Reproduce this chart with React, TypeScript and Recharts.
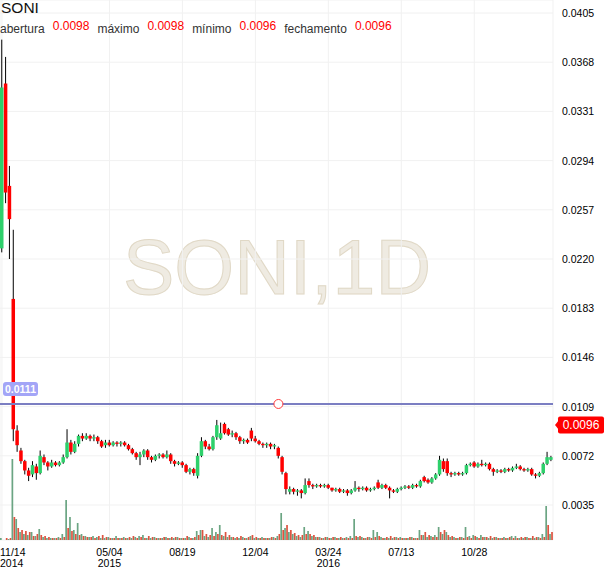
import React from 'react';
import { ComposedChart, Bar, XAxis, YAxis, CartesianGrid, ReferenceLine, ReferenceDot } from 'recharts';

const FONT = "'Liberation Sans', Arial, sans-serif";

const SYMBOL = 'SONI';
const WATERMARK = 'SONI,1D';
const LEGEND = [
  ['abertura', '0.0098'],
  ['máximo', '0.0098'],
  ['mínimo', '0.0096'],
  ['fechamento', '0.0096'],
];
const LAST_PRICE = 0.0096;
const HLINE_PRICE = 0.0111;
const HLINE_ANCHOR = 72;

// one entry per 4 trading days, starting 11/14/2014
const OPEN = [
  0.0228, 0.0352, 0.0275, 0.019, 0.0091, 0.0076, 0.0068, 0.0061, 0.0058, 0.0064,
  0.0059, 0.0071, 0.0067, 0.0064, 0.0067, 0.0065, 0.0067, 0.0071, 0.0082, 0.0075,
  0.0081, 0.0087, 0.0085, 0.0087, 0.0085, 0.0086, 0.0083, 0.008, 0.0082, 0.008,
  0.0082, 0.0081, 0.0082, 0.008, 0.0077, 0.0074, 0.0071, 0.0073, 0.0076, 0.0071,
  0.0069, 0.0072, 0.0073, 0.0071, 0.0073, 0.0068, 0.0066, 0.0067, 0.0065, 0.006,
  0.0062, 0.0057, 0.0072, 0.0083, 0.0079, 0.0077, 0.0086, 0.0085, 0.0096, 0.0092,
  0.0088, 0.0089, 0.0086, 0.0083, 0.0084, 0.0091, 0.0085, 0.0083, 0.0081, 0.008,
  0.0081, 0.0079, 0.0078, 0.0071, 0.0059, 0.0045, 0.0047, 0.0045, 0.0046, 0.0044,
  0.0053, 0.005, 0.0049, 0.005, 0.0049, 0.005, 0.0048, 0.0046, 0.0047, 0.0045,
  0.0046, 0.0044, 0.0046, 0.0048, 0.0047, 0.0048, 0.0046, 0.0047, 0.0052, 0.0048,
  0.005, 0.0048, 0.0046, 0.0045, 0.0047, 0.0048, 0.0049, 0.0048, 0.005, 0.0049,
  0.0056, 0.0054, 0.0052, 0.0055, 0.0058, 0.0068, 0.0068, 0.0059, 0.0058, 0.0059,
  0.0058, 0.0059, 0.0065, 0.0067, 0.0064, 0.0066, 0.0065, 0.0066, 0.0062, 0.006,
  0.0061, 0.006, 0.0062, 0.0061, 0.0063, 0.0064, 0.0062, 0.0061, 0.0062, 0.0058,
  0.0057, 0.0059, 0.0066, 0.0069,
];
const HIGH = [
  0.0385, 0.0372, 0.029, 0.0242, 0.0095, 0.0078, 0.0069, 0.0063, 0.0068, 0.0066,
  0.0076, 0.0073, 0.0068, 0.0069, 0.0068, 0.0068, 0.0073, 0.0092, 0.0084, 0.0083,
  0.0088, 0.0089, 0.0089, 0.0088, 0.0088, 0.0087, 0.0084, 0.0084, 0.0084, 0.0083,
  0.0083, 0.0083, 0.0083, 0.0081, 0.0078, 0.0075, 0.0075, 0.0077, 0.0077, 0.0072,
  0.0073, 0.0074, 0.0074, 0.0076, 0.0074, 0.0069, 0.0068, 0.0068, 0.0066, 0.0063,
  0.0063, 0.0074, 0.0086, 0.0084, 0.0081, 0.0087, 0.0099, 0.0097, 0.0097, 0.0093,
  0.0091, 0.009, 0.0087, 0.0085, 0.0085, 0.0093, 0.0087, 0.0084, 0.0082, 0.0082,
  0.0082, 0.0081, 0.0079, 0.0072, 0.006, 0.0049, 0.0048, 0.0047, 0.0047, 0.0055,
  0.0055, 0.0051, 0.0051, 0.0051, 0.0051, 0.0051, 0.0048, 0.0048, 0.0048, 0.0047,
  0.0047, 0.0047, 0.0053, 0.0049, 0.0049, 0.0049, 0.0048, 0.0049, 0.0054, 0.0051,
  0.0051, 0.0049, 0.0047, 0.0048, 0.0049, 0.005, 0.005, 0.0051, 0.0051, 0.0054,
  0.0057, 0.0055, 0.0056, 0.0059, 0.0072, 0.007, 0.007, 0.006, 0.006, 0.006,
  0.006, 0.0066, 0.0067, 0.0068, 0.0067, 0.0069, 0.0067, 0.0067, 0.0063, 0.0062,
  0.0062, 0.0063, 0.0063, 0.0064, 0.0066, 0.0065, 0.0063, 0.0063, 0.0063, 0.0059,
  0.006, 0.0067, 0.0075, 0.0072,
];
const LOW = [
  0.0225, 0.0262, 0.022, 0.0083, 0.0075, 0.0066, 0.0058, 0.0053, 0.0056, 0.0054,
  0.0058, 0.0065, 0.0061, 0.0063, 0.0064, 0.0064, 0.0066, 0.007, 0.0073, 0.0074,
  0.0079, 0.0083, 0.0084, 0.0083, 0.0083, 0.0081, 0.0078, 0.0078, 0.0079, 0.0079,
  0.0079, 0.0079, 0.0079, 0.0076, 0.0073, 0.0069, 0.0065, 0.0071, 0.0069, 0.0067,
  0.0068, 0.007, 0.007, 0.007, 0.0066, 0.0064, 0.0065, 0.0063, 0.0059, 0.0058,
  0.0057, 0.0055, 0.0071, 0.0077, 0.0076, 0.0076, 0.0084, 0.0084, 0.0088, 0.0087,
  0.0086, 0.0084, 0.0081, 0.0081, 0.0081, 0.0083, 0.0082, 0.008, 0.0078, 0.0078,
  0.0077, 0.0077, 0.007, 0.0058, 0.0043, 0.0043, 0.0043, 0.0042, 0.004, 0.0043,
  0.0048, 0.0047, 0.0048, 0.0048, 0.0048, 0.0047, 0.0045, 0.0045, 0.0044, 0.0044,
  0.0042, 0.0043, 0.0045, 0.0045, 0.0046, 0.0045, 0.0045, 0.0046, 0.0047, 0.0047,
  0.0047, 0.004, 0.0044, 0.0044, 0.0046, 0.0047, 0.0047, 0.0047, 0.0048, 0.0048,
  0.0052, 0.0051, 0.0051, 0.0054, 0.0057, 0.006, 0.0057, 0.0056, 0.0057, 0.0057,
  0.0057, 0.0058, 0.0064, 0.0063, 0.0063, 0.0064, 0.0064, 0.0061, 0.0057, 0.0059,
  0.0059, 0.0059, 0.006, 0.006, 0.0062, 0.0061, 0.006, 0.006, 0.0057, 0.0055,
  0.0056, 0.0058, 0.0065, 0.0068,
];
const CLOSE = [
  0.0349, 0.027, 0.025, 0.0092, 0.008, 0.0068, 0.0061, 0.0057, 0.0065, 0.0059,
  0.0072, 0.0067, 0.0064, 0.0067, 0.0065, 0.0067, 0.0071, 0.0082, 0.0075, 0.0081,
  0.0087, 0.0085, 0.0087, 0.0085, 0.0086, 0.0083, 0.0079, 0.0082, 0.008, 0.0082,
  0.0081, 0.0082, 0.008, 0.0077, 0.0074, 0.0071, 0.0073, 0.0076, 0.0071, 0.0069,
  0.0072, 0.0073, 0.0071, 0.0073, 0.0068, 0.0066, 0.0067, 0.0065, 0.006, 0.0062,
  0.0059, 0.0072, 0.0083, 0.0079, 0.0077, 0.0086, 0.0095, 0.0089, 0.0089, 0.0088,
  0.0089, 0.0086, 0.0083, 0.0084, 0.0082, 0.0085, 0.0083, 0.0081, 0.008, 0.0081,
  0.0079, 0.008, 0.0072, 0.006, 0.0047, 0.0047, 0.0045, 0.0046, 0.0044, 0.005,
  0.005, 0.0049, 0.005, 0.0049, 0.005, 0.0048, 0.0046, 0.0047, 0.0045, 0.0046,
  0.0044, 0.0046, 0.0048, 0.0047, 0.0048, 0.0046, 0.0047, 0.0048, 0.0048, 0.005,
  0.0048, 0.0046, 0.0045, 0.0047, 0.0048, 0.0049, 0.0048, 0.005, 0.0049, 0.0053,
  0.0053, 0.0052, 0.0055, 0.0058, 0.0069, 0.0062, 0.0059, 0.0058, 0.0059, 0.0058,
  0.0059, 0.0065, 0.0066, 0.0064, 0.0066, 0.0065, 0.0066, 0.0062, 0.006, 0.0061,
  0.006, 0.0062, 0.0061, 0.0063, 0.0064, 0.0062, 0.0061, 0.0062, 0.0058, 0.0057,
  0.0059, 0.0066, 0.0071, 0.0071,
];
// volume on up days / down days, shares
const VOL_UP = [
  200, 0, 100, 8100, 2100, 800, 600, 500, 800, 400, 1100, 300, 200, 200, 200, 300,
  600, 4000, 2300, 1000, 1700, 600, 400, 300, 400, 300, 200, 200, 300, 200, 400, 200,
  300, 200, 200, 300, 400, 500, 200, 200, 300, 200, 200, 300, 200, 200, 300, 200,
  200, 300, 200, 900, 1000, 400, 300, 1200, 800, 1500, 400, 300, 300, 200, 200, 300,
  200, 400, 200, 200, 300, 200, 200, 300, 400, 2700, 1200, 800, 600, 400, 300, 1300,
  900, 400, 300, 300, 200, 300, 200, 300, 200, 200, 300, 400, 2100, 300, 300, 200,
  300, 1000, 800, 300, 200, 200, 200, 300, 300, 200, 200, 300, 200, 1000, 500, 300,
  400, 500, 1300, 600, 800, 300, 300, 200, 300, 1300, 400, 500, 300, 500, 300, 200,
  200, 300, 200, 300, 200, 400, 400, 200, 200, 300, 200, 200, 300, 600, 3400, 600,
];
const VOL_DOWN = [
  0, 200, 200, 2300, 1200, 1000, 900, 800, 400, 600, 500, 400, 300, 200, 200, 200,
  300, 1200, 900, 600, 500, 400, 300, 300, 200, 400, 500, 300, 200, 200, 200, 200,
  200, 300, 400, 200, 300, 200, 400, 300, 200, 200, 300, 200, 300, 300, 200, 200,
  400, 200, 300, 500, 1000, 600, 500, 400, 600, 500, 800, 500, 300, 300, 400, 200,
  300, 500, 300, 200, 200, 200, 300, 200, 600, 1000, 1500, 1000, 700, 500, 500, 600,
  600, 500, 300, 200, 300, 200, 300, 200, 300, 200, 200, 200, 400, 400, 200, 300,
  200, 300, 400, 200, 300, 400, 300, 200, 200, 200, 300, 200, 200, 500, 800, 500,
  300, 300, 800, 1000, 500, 400, 200, 300, 200, 300, 200, 400, 200, 300, 300, 400,
  300, 200, 200, 200, 300, 200, 200, 300, 300, 200, 400, 300, 200, 300, 1500, 800,
];

const PRICE_TICKS = [0.0035, 0.0072, 0.0109, 0.0146, 0.0183, 0.022, 0.0257, 0.0294, 0.0331, 0.0368, 0.0405];
const PRICE_DOMAIN = [0.00087, 0.04148];
const VOL_DOMAIN = [0, 54000];
const DATE_TICKS = [0, 28, 47, 66, 85, 104, 123];
const DATE_LABELS = [
  ['11/14', '2014'],
  ['05/04', '2015'],
  ['08/19', ''],
  ['12/04', ''],
  ['03/24', '2016'],
  ['07/13', ''],
  ['10/28', ''],
];

const UP = '#2ed06b';
const DOWN = '#ff0000';
const VOL_UP_COLOR = '#6ba583';
const VOL_DOWN_COLOR = '#dd5340';

const data = OPEN.map((o, i) => ({
  i,
  o,
  h: HIGH[i],
  l: LOW[i],
  c: CLOSE[i],
  vu: VOL_UP[i],
  vd: VOL_DOWN[i],
}));

function Candle(props: any) {
  const { x, y, width, height, payload } = props;
  const { o, h, l, c } = payload;
  const top = Math.min(y, y + height);
  const span = Math.abs(height);
  const k = h > l ? span / (h - l) : 0;
  const yOf = (v: number) => top + (h - v) * k;
  const bodyTop = yOf(Math.max(o, c));
  const bodyH = Math.max(1, yOf(Math.min(o, c)) - bodyTop);
  const cx = x + width / 2;
  return (
    <g>
      <line x1={cx} x2={cx} y1={top} y2={top + Math.max(span, 1)} stroke="#000" strokeWidth={1} />
      <rect x={x} y={bodyTop} width={width} height={bodyH} fill={c >= o ? UP : DOWN} />
    </g>
  );
}

function VolumePair(props: any) {
  const { x, y, width, height, payload } = props;
  const m = Math.max(payload.vu, payload.vd);
  if (!m || !height) return null;
  const bottom = y + height;
  const k = height / m;
  const w = width / 2 - 0.3;
  return (
    <g>
      {payload.vu > 0 && <rect x={x} y={bottom - payload.vu * k} width={w} height={payload.vu * k} fill={VOL_UP_COLOR} />}
      {payload.vd > 0 && <rect x={x + width / 2} y={bottom - payload.vd * k} width={w} height={payload.vd * k} fill={VOL_DOWN_COLOR} />}
    </g>
  );
}

function DateTick(props: any) {
  const { x, y, payload } = props;
  const k = DATE_TICKS.indexOf(payload.value);
  if (k < 0) return null;
  const [a, b] = DATE_LABELS[k];
  const tx = k === 0 ? 0 : x;
  const anchor = k === 0 ? 'start' : 'middle';
  return (
    <text textAnchor={anchor} fontSize={10.5} fill="#000" fontFamily={FONT}>
      <tspan x={tx} y={y + 16}>{a}</tspan>
      {b && <tspan x={tx} y={y + 27}>{b}</tspan>}
    </text>
  );
}

function PriceTick(props: any) {
  const { x, y, payload } = props;
  return (
    <text x={x + 9} y={y + 4} textAnchor="start" fontSize={10.5} fill="#000" fontFamily={FONT}>
      {payload.value.toFixed(4)}
    </text>
  );
}

function HLineTag(props: any) {
  const vb = props.viewBox || {};
  const x = vb.x + 3;
  const y = vb.y - 22;
  return (
    <g>
      <rect x={x} y={y} width={35} height={14} rx={3} fill="#a3a5f7" />
      <text x={x + 17.5} y={y + 11} textAnchor="middle" fontSize={10.5} fontWeight="bold" fill="#fff" fontFamily={FONT}>
        {HLINE_PRICE.toFixed(4)}
      </text>
    </g>
  );
}

function LastPriceTag(props: any) {
  const vb = props.viewBox || {};
  const x0 = vb.x + vb.width + 2;
  const cy = vb.y + 1;
  return (
    <g>
      <path d={`M${x0} ${cy} L${x0 + 4} ${cy - 5} L${x0 + 4} ${cy + 5} Z`} fill={DOWN} />
      <rect x={x0 + 3} y={cy - 8.5} width={46} height={17} rx={2} fill={DOWN} />
      <text x={x0 + 26} y={cy + 4.5} textAnchor="middle" fontSize={12} fill="#fff" fontFamily={FONT}>
        {LAST_PRICE.toFixed(4)}
      </text>
    </g>
  );
}

export default function App() {
  return (
    <div style={{ position: 'absolute', left: 0, top: 0, width: 610, height: 568, background: '#fff', fontFamily: FONT, overflow: 'hidden' }}>
      <svg width={610} height={568} style={{ position: 'absolute', left: 0, top: 0 }}>
        <text x={277} y={294} textAnchor="middle" fontSize={77} fontFamily={FONT} fill="#efebe2" stroke="#e0d8c6" strokeWidth={1}>
          {WATERMARK}
        </text>
      </svg>
      <ComposedChart
        width={610}
        height={568}
        data={data}
        margin={{ top: 0, right: 0, bottom: 0, left: 0 }}
        barCategoryGap={0}
      >
        <CartesianGrid xAxisId="p" yAxisId="price" stroke="#f1f1f1" />
        <XAxis
          xAxisId="p"
          dataKey="i"
          type="category"
          ticks={DATE_TICKS}
          interval={0}
          height={28}
          axisLine={false}
          tickLine={false}
          tickSize={0}
          tickMargin={0}
          tick={<DateTick />}
        />
        <XAxis xAxisId="v" dataKey="i" type="category" hide />
        <YAxis
          yAxisId="price"
          orientation="right"
          width={57}
          domain={PRICE_DOMAIN}
          ticks={PRICE_TICKS}
          interval={0}
          allowDataOverflow
          axisLine={false}
          tickLine={false}
          tickSize={0}
          tickMargin={0}
          tick={<PriceTick />}
        />
        <YAxis yAxisId="vol" domain={VOL_DOMAIN} allowDataOverflow hide />
        <Bar
          xAxisId="v"
          yAxisId="vol"
          dataKey={(d: any) => Math.max(d.vu, d.vd)}
          shape={<VolumePair />}
          isAnimationActive={false}
        />
        <Bar
          xAxisId="p"
          yAxisId="price"
          dataKey={(d: any) => [d.l, d.h]}
          barSize={3.5}
          shape={<Candle />}
          isAnimationActive={false}
        />
        <ReferenceLine
          xAxisId="p"
          yAxisId="price"
          y={HLINE_PRICE}
          stroke="#7b7ec2"
          strokeWidth={2}
          label={<HLineTag />}
        />
        <ReferenceLine
          xAxisId="p"
          yAxisId="price"
          y={LAST_PRICE}
          stroke="none"
          label={<LastPriceTag />}
        />
        <ReferenceDot
          xAxisId="p"
          yAxisId="price"
          x={HLINE_ANCHOR}
          y={HLINE_PRICE}
          r={4.5}
          fill="#fff"
          stroke="#ff3b3b"
          strokeWidth={1}
        />
      </ComposedChart>
      <div style={{ position: 'absolute', left: 0, top: 0, pointerEvents: 'none' }}>
        <div style={{ position: 'absolute', left: 1, top: -1, fontSize: 15.5, color: '#111', whiteSpace: 'nowrap' }}>{SYMBOL}</div>
        <div style={{ position: 'absolute', left: 0, top: 22, display: 'flex', alignItems: 'baseline', columnGap: 8, fontSize: 12, whiteSpace: 'nowrap' }}>
          {LEGEND.map(([label, value]) => (
            <React.Fragment key={label}>
              <span style={{ color: '#333' }}>{label}</span>
              <span style={{ color: '#f00', position: 'relative', top: -3 }}>{value}</span>
            </React.Fragment>
          ))}
        </div>
      </div>
    </div>
  );
}
